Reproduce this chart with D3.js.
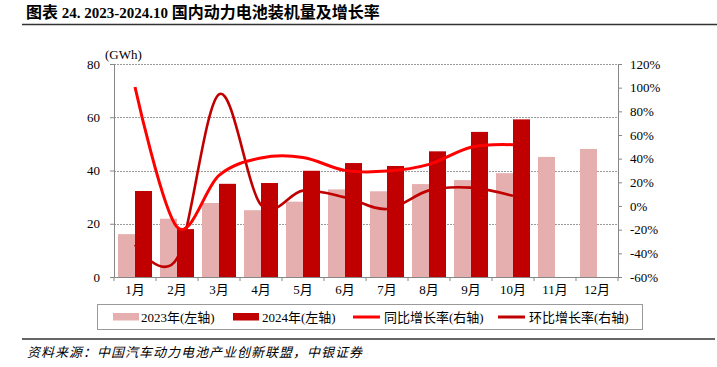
<!DOCTYPE html>
<html><head><meta charset="utf-8">
<script src="https://cdn.jsdelivr.net/npm/d3@7"></script>
<style>
html,body{margin:0;padding:0;background:#fff;}
svg{display:block;}
text{font-family:"Liberation Serif","Noto Sans CJK SC",serif;fill:#000;}
</style></head>
<body>
<svg id="chart" width="717" height="367"></svg>
<script>
const months = ['1月','2月','3月','4月','5月','6月','7月','8月','9月','10月','11月','12月'];
const series = ['2023年(左轴)','2024年(左轴)','同比增长率(右轴)','环比增长率(右轴)'];
const v2023 = [16.1, 21.9, 27.8, 25.1, 28.3, 32.9, 32.2, 34.9, 36.4, 39.0, 45.1, 48.1];
const v2024 = [32.3, 18.0, 35.0, 35.3, 39.9, 42.8, 41.7, 47.2, 54.5, 59.2];
const yoy = [100.6, -17.8, 25.9, 40.6, 41.0, 30.1, 29.5, 35.2, 49.7, 51.8];
const mom = [-32.8, -44.3, 94.4, 0.9, 13.0, 7.3, -2.6, 13.2, 15.5, 8.6];
const leftTicks = [0, 20, 40, 60, 80];
const rightTicks = [-60, -40, -20, 0, 20, 40, 60, 80, 100, 120];
const titleParts = [['图表', 16], [' 24. 2023-2024.10 ', 15], ['国内动力电池装机量及增长率', 16]];
const source = '资料来源：中国汽车动力电池产业创新联盟，中银证券';

const C23 = '#e6afaf', C24 = '#c00000', CYOY = '#ff0000', CMOM = '#c00000';
const svg = d3.select('#chart');
const L = 114, R = 618, T = 64, B = 277;

const x = d3.scaleBand().domain(months).range([L, R]).padding(0);
const xs = d3.scaleBand().domain(['a','b']).range([4, 38]).padding(0);
const yL = d3.scaleLinear().domain([0, 80]).range([B, T]);
const yR = d3.scaleLinear().domain([-60, 120]).range([B, T]);

// title
const tt = svg.append('text').attr('x', 26).attr('y', 18).attr('font-weight', 'bold');
titleParts.forEach(p => tt.append('tspan').attr('font-size', p[1]).text(p[0]));
svg.append('line').attr('x1', 22).attr('x2', 717).attr('y1', 24.5).attr('y2', 24.5)
  .attr('stroke', '#333').attr('stroke-width', 1.5);

// gridlines
svg.append('g').selectAll('line').data(leftTicks.filter(d => d > 0)).join('line')
  .attr('x1', L).attr('x2', R).attr('y1', d => Math.round(yL(d)) + 0.5).attr('y2', d => Math.round(yL(d)) + 0.5)
  .attr('stroke', '#9a9a9a').attr('stroke-dasharray', '2,1').attr('stroke-width', 1);

// bars
const g = svg.append('g');
g.selectAll('rect.a').data(v2023).join('rect').attr('class', 'a')
  .attr('x', (d, i) => x(months[i]) + xs('a')).attr('width', xs.bandwidth())
  .attr('y', d => yL(d)).attr('height', d => yL(0) - yL(d)).attr('fill', C23);
g.selectAll('rect.b').data(v2024).join('rect').attr('class', 'b')
  .attr('x', (d, i) => x(months[i]) + xs('b')).attr('width', xs.bandwidth())
  .attr('y', d => yL(d)).attr('height', d => yL(0) - yL(d)).attr('fill', C24);

// lines
const cx = i => x(months[i]) + x.bandwidth() / 2;
const line = d3.line().x((d, i) => cx(i)).y(d => yR(d)).curve(d3.curveCatmullRom.alpha(0));
svg.append('path').datum(mom).attr('d', line).attr('fill', 'none').attr('stroke', CMOM).attr('stroke-width', 2.6);
svg.append('path').datum(yoy).attr('d', line).attr('fill', 'none').attr('stroke', CYOY).attr('stroke-width', 3);

// axes
const axL = svg.append('g').attr('transform', `translate(${L},0)`)
  .call(d3.axisLeft(yL).tickValues(leftTicks).tickSize(4).tickSizeOuter(0).tickPadding(10));
const axR = svg.append('g').attr('transform', `translate(${R},0)`)
  .call(d3.axisRight(yR).tickValues(rightTicks).tickFormat(d => d + '%').tickSize(4).tickSizeOuter(0).tickPadding(8));
const axB = svg.append('g').attr('transform', `translate(0,${B})`)
  .call(d3.axisBottom(x).tickSize(0).tickSizeOuter(0).tickPadding(8));
axB.append('g').selectAll('line').data(months.concat(['end'])).join('line')
  .attr('x1', (d, i) => i < months.length ? x(d) : R).attr('x2', (d, i) => i < months.length ? x(d) : R)
  .attr('y1', 0).attr('y2', 4);
[axL, axR, axB].forEach(a => {
  a.selectAll('path, line').attr('stroke', '#868686');
  a.selectAll('text').attr('font-size', 13).style('font-family', '"Liberation Serif","Noto Sans CJK SC",serif').attr('fill', '#000');
});

svg.append('text').attr('x', 105).attr('y', 59).attr('font-size', 13).text('(GWh)');

// legend
const lg = svg.append('g');
lg.append('rect').attr('x', 97.5).attr('y', 304.5).attr('width', 545).attr('height', 25)
  .attr('fill', 'none').attr('stroke', '#9a9a9a');
const items = [
  {sx: 113, tx: 141, type: 'rect', c: C23},
  {sx: 233, tx: 262, type: 'rect', c: C24},
  {sx: 353, tx: 384, type: 'line', c: CYOY},
  {sx: 498, tx: 529, type: 'line', c: CMOM}
];
items.forEach((it, i) => {
  if (it.type === 'rect') {
    lg.append('rect').attr('x', it.sx).attr('y', 313).attr('width', 26).attr('height', 7.5).attr('fill', it.c);
  } else {
    lg.append('line').attr('x1', it.sx).attr('x2', it.sx + 27).attr('y1', 317).attr('y2', 317)
      .attr('stroke', it.c).attr('stroke-width', 3);
  }
  lg.append('text').attr('x', it.tx).attr('y', 321.5).attr('font-size', 13).text(series[i]);
});

// footer
svg.append('line').attr('x1', 22).attr('x2', 715).attr('y1', 339).attr('y2', 339)
  .attr('stroke', '#333').attr('stroke-width', 1.5);
svg.append('text').attr('x', 27).attr('y', 357).attr('font-size', 13).attr('font-style', 'italic')
  .attr('letter-spacing', 1).text(source);
</script>
</body></html>
